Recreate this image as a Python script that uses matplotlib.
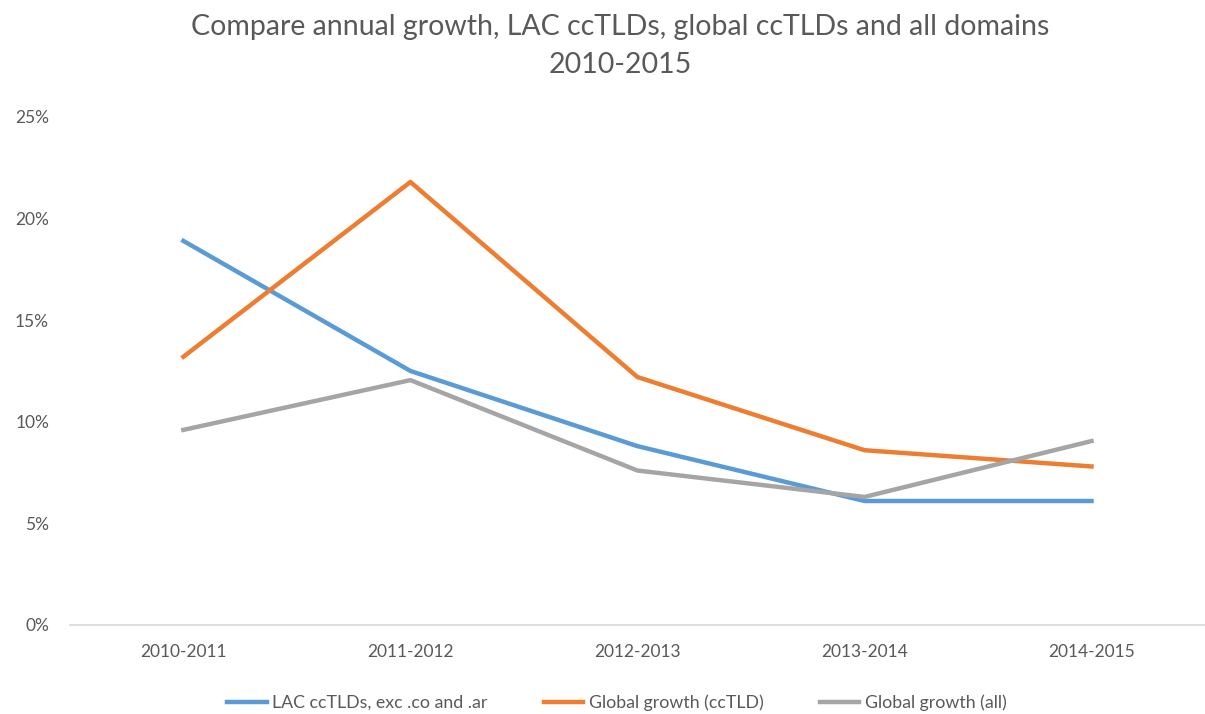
import matplotlib
matplotlib.use("Agg")
import matplotlib.pyplot as plt
from matplotlib.ticker import PercentFormatter

periods = ["2010-2011", "2011-2012", "2012-2013", "2013-2014", "2014-2015"]
lac = [18.9, 12.5, 8.8, 6.1, 6.1]
global_cctld = [13.2, 21.8, 12.2, 8.6, 7.8]
global_all = [9.6, 12.05, 7.6, 6.3, 9.05]

plt.rcParams['font.family'] = ['Lato', 'DejaVu Sans']
txt = '#595959'

fig = plt.figure(figsize=(12.05, 7.14), dpi=100)
ax = fig.add_axes([0.058, 0.1247, 0.942, 0.7115])

x = range(len(periods))
ax.plot(x, lac, color='#5b9bd5', lw=3.2, label='LAC ccTLDs, exc .co and .ar')
ax.plot(x, global_cctld, color='#ed7d31', lw=3.2, label='Global growth (ccTLD)')
ax.plot(x, global_all, color='#a5a5a5', lw=3.2, label='Global growth (all)')

ax.set_xlim(-0.5, len(periods) - 0.5)
ax.set_ylim(0, 25)
ax.set_yticks([0, 5, 10, 15, 20, 25])
ax.yaxis.set_major_formatter(PercentFormatter(decimals=0))
ax.set_xticks(list(x))
ax.set_xticklabels(periods)
ax.tick_params(length=0, labelsize=12.5, colors=txt)
ax.tick_params(axis='x', pad=14)
ax.tick_params(axis='y', pad=15)

for s in ['top', 'right', 'left']:
    ax.spines[s].set_visible(False)
ax.spines['bottom'].set_color('#d9d9d9')
ax.spines['bottom'].set_linewidth(1.2)

fig.text(0.515, 0.981, "Compare annual growth, LAC ccTLDs, global ccTLDs and all domains\n2010-2015",
         ha='center', va='top', fontsize=20.5, color=txt, linespacing=1.6)

leg = fig.legend(loc='center', bbox_to_anchor=(0.512, 0.016), ncol=3, frameon=False,
                 fontsize=12.8, handlelength=2.2, columnspacing=3.2, handletextpad=0.3)
for t in leg.get_texts():
    t.set_color(txt)

fig.savefig("out.png", dpi=100)
